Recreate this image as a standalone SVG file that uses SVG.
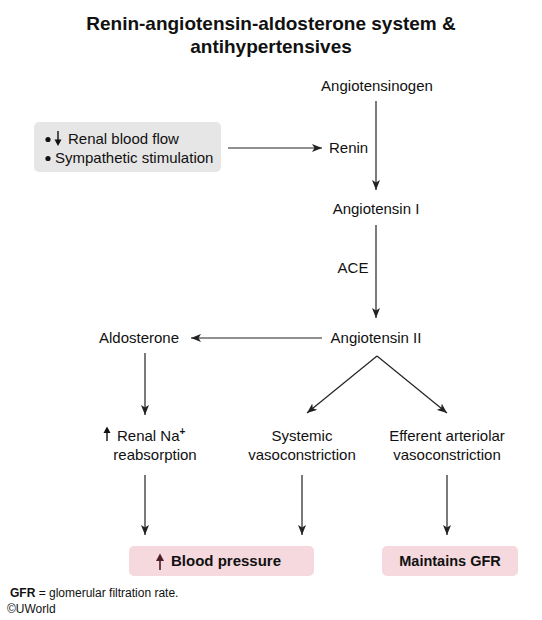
<svg xmlns="http://www.w3.org/2000/svg" width="542" height="620" viewBox="0 0 542 620">
<style>
text{font-family:"Liberation Sans",Arial,sans-serif;fill:#111;}
.t{font-size:19px;font-weight:bold;text-anchor:middle;}
.n{font-size:15px;text-anchor:middle;}
.l{font-size:15px;}
.b{font-size:14.5px;font-weight:bold;text-anchor:middle;}
.f{font-size:12px;}
.c{stroke:#222;stroke-width:1.2;fill:none;marker-end:url(#ah);}
</style>
<defs>
<marker id="ah" viewBox="0 0 10 8" refX="10" refY="4" markerWidth="10" markerHeight="8" markerUnits="userSpaceOnUse" orient="auto">
<path d="M0,0 L10,4 L0,8 L2.5,4 Z" fill="#222"/>
</marker>
</defs>
<rect width="542" height="620" fill="#fff"/>
<g id="title">
<text class="t" x="271" y="30">Renin-angiotensin-aldosterone system &amp;</text>
<text class="t" x="271" y="53">antihypertensives</text>
</g>
<g id="angiotensinogen"><text class="n" x="377" y="91">Angiotensinogen</text></g>
<g id="stimuli">
<rect x="34" y="122" width="187" height="50" rx="5" fill="#e6e6e6"/>
<circle cx="48" cy="139.5" r="2.6" fill="#111"/>
<path d="M58,131 V143" stroke="#111" stroke-width="1.4"/>
<path d="M54.5,139.5 L58,146 L61.5,139.5 Z" fill="#111"/>
<text class="l" x="68" y="144">Renal blood flow</text>
<circle cx="48" cy="158.5" r="2.6" fill="#111"/>
<text class="l" x="55" y="163">Sympathetic stimulation</text>
</g>
<g id="renin"><text class="l" x="329" y="153">Renin</text></g>
<g id="angiotensin1"><text class="n" x="376" y="214">Angiotensin I</text></g>
<g id="ace"><text class="n" x="353" y="273">ACE</text></g>
<g id="angiotensin2"><text class="n" x="376" y="343">Angiotensin II</text></g>
<g id="aldosterone"><text class="n" x="139" y="343">Aldosterone</text></g>
<g id="renal-na">
<path d="M107,429 V441" stroke="#111" stroke-width="1.4"/>
<path d="M103.5,433 L107,426.5 L110.5,433 Z" fill="#111"/>
<text class="l" x="117" y="441">Renal Na<tspan font-size="10" font-weight="bold" dy="-6">+</tspan></text>
<text class="n" x="155" y="460">reabsorption</text>
</g>
<g id="systemic">
<text class="n" x="302" y="441">Systemic</text>
<text class="n" x="302" y="460">vasoconstriction</text>
</g>
<g id="efferent">
<text class="n" x="447" y="441">Efferent arteriolar</text>
<text class="n" x="447" y="460">vasoconstriction</text>
</g>
<g id="blood-pressure">
<rect x="129" y="546" width="185" height="30" rx="5" fill="#f5d9de"/>
<path d="M160,557 V570" stroke="#4a1f23" stroke-width="1.6"/>
<path d="M156,561 L160,553.5 L164,561 Z" fill="#4a1f23"/>
<text class="b" x="226" y="566" style="font-size:15px">Blood pressure</text>
</g>
<g id="gfr">
<rect x="382" y="546" width="136" height="30" rx="5" fill="#f5d9de"/>
<text class="b" x="450" y="566">Maintains GFR</text>
</g>
<g id="connectors">
<path class="c" d="M228,148 H322"/>
<path class="c" d="M376,101 V190"/>
<path class="c" d="M376,225 V318"/>
<path class="c" d="M322,338 H191"/>
<path class="c" d="M145,353 V415"/>
<path class="c" d="M377,356 L307,413"/>
<path class="c" d="M377,356 L447,413"/>
<path class="c" d="M145,475 V535"/>
<path class="c" d="M302,475 V535"/>
<path class="c" d="M447,475 V535"/>
</g>
<g id="footnote">
<text class="f" x="10" y="597"><tspan font-weight="bold">GFR</tspan> = glomerular filtration rate.</text>
<text class="f" x="7" y="613">©UWorld</text>
</g>
</svg>
